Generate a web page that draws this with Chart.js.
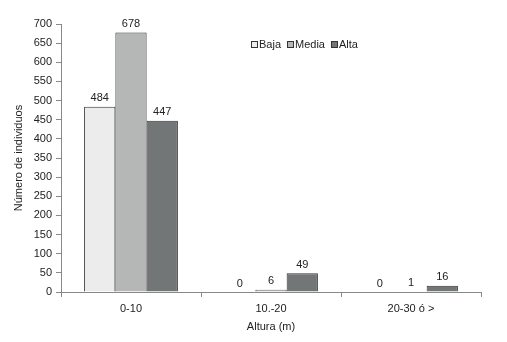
<!DOCTYPE html>
<html>
<head>
<meta charset="utf-8">
<script src="https://cdn.jsdelivr.net/npm/chart.js@4/dist/chart.umd.min.js"></script>
<style>
  html, body { margin: 0; padding: 0; background: #fff; }
  #wrap { width: 507px; height: 342px; }
</style>
</head>
<body>
<div id="wrap"><canvas id="chart" width="507" height="342"></canvas></div>
<script>
// Data
const categories = ['0-10', '10.-20', '20-30 ó >'];
const baja = [484, 0, 0];
const media = [678, 6, 1];
const alta = [447, 49, 16];
const seriesNames = ['Baja', 'Media', 'Alta'];
const yTicks = [0, 50, 100, 150, 200, 250, 300, 350, 400, 450, 500, 550, 600, 650, 700];

const colors = ['#ececec', '#b5b7b7', '#737676'];
const font = "'Liberation Sans', Arial, sans-serif";

// Value labels above every bar
const valueLabels = {
    id: 'valueLabels',
    afterDatasetsDraw(chart) {
        const ctx = chart.ctx;
        ctx.save();
        ctx.font = '11px ' + font;
        ctx.fillStyle = '#222';
        ctx.textAlign = 'center';
        ctx.textBaseline = 'bottom';
        chart.data.datasets.forEach((ds, i) => {
            chart.getDatasetMeta(i).data.forEach((bar, j) => {
                ctx.fillText(String(ds.data[j]), bar.x, bar.y - 3);
            });
        });
        ctx.restore();
    }
};

// Small legend drawn inside the plot, like the original
const innerLegend = {
    id: 'innerLegend',
    afterDraw(chart) {
        const ctx = chart.ctx;
        ctx.save();
        ctx.font = '11px ' + font;
        ctx.textBaseline = 'middle';
        let x = 251;
        const y = 45;
        chart.data.datasets.forEach(ds => {
            ctx.fillStyle = ds.backgroundColor;
            ctx.fillRect(x + 0.5, y - 3.5, 6, 6);
            ctx.strokeStyle = '#333';
            ctx.lineWidth = 1;
            ctx.strokeRect(x + 0.5, y - 3.5, 6, 6);
            ctx.fillStyle = '#222';
            ctx.textAlign = 'left';
            ctx.fillText(ds.label, x + 8, y);
            x += 8 + ctx.measureText(ds.label).width + 6;
        });
        ctx.restore();
    }
};

new Chart(document.getElementById('chart'), {
    type: 'bar',
    data: {
        labels: categories,
        datasets: [
            { label: seriesNames[0], data: baja, backgroundColor: colors[0] },
            { label: seriesNames[1], data: media, backgroundColor: colors[1] },
            { label: seriesNames[2], data: alta, backgroundColor: colors[2] }
        ].map(ds => Object.assign(ds, {
            borderColor: '#333',
            borderWidth: 1,
            categoryPercentage: 0.67,
            barPercentage: 1
        }))
    },
    options: {
        responsive: false,
        animation: false,
        layout: { padding: { left: 8, top: 24, right: 26, bottom: 4 } },
        plugins: {
            legend: { display: false },
            tooltip: { enabled: false }
        },
        scales: {
            x: {
                grid: { offset: true, drawOnChartArea: false, tickLength: 5, color: '#888' },
                border: { color: '#888' },
                ticks: { color: '#222', font: { family: font, size: 11 }, padding: 5 },
                title: { display: true, text: 'Altura (m)', color: '#222', font: { family: font, size: 11 }, padding: { top: 4 } },
                afterFit(scale) { scale.height = 46; }
            },
            y: {
                min: 0,
                max: 700,
                afterBuildTicks(scale) { scale.ticks = yTicks.map(v => ({ value: v })); },
                grid: { drawOnChartArea: false, tickLength: 5, color: '#888' },
                border: { color: '#888' },
                ticks: { color: '#222', font: { family: font, size: 11 }, padding: 4 },
                title: { display: true, text: 'Número de individuos', color: '#222', font: { family: font, size: 11 }, padding: { bottom: 8 } },
                afterFit(scale) { scale.width = 53; }
            }
        }
    },
    plugins: [valueLabels, innerLegend]
});
</script>
</body>
</html>
